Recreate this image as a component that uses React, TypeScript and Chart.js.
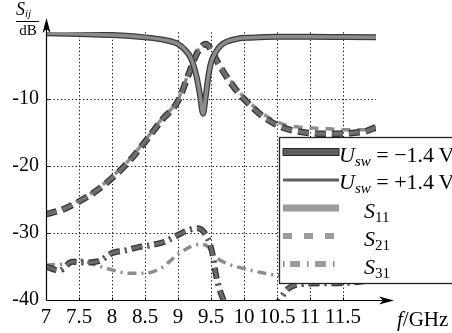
import React, { useEffect, useRef } from 'react';
import { Chart, registerables } from 'chart.js';

Chart.register(...registerables);

// ---- tick labels ----
const X_TICKS = [7, 7.5, 8, 8.5, 9, 9.5, 10, 10.5, 11, 11.5, 12];
const Y_TICKS = [-40, -30, -20, -10, 0];
const X_GRID = [7.5, 8, 8.5, 9, 9.5, 10, 10.5, 11, 11.5];
const Y_GRID = [-10, -20, -30];

// ---- S11 ----
const FREQ_S11 = [7.0, 7.5, 8.0, 8.5, 8.8, 9.0, 9.1, 9.2, 9.28, 9.33, 9.38, 9.42, 9.46, 9.5, 9.56, 9.65, 9.75, 9.9, 10.1, 10.5, 11.0, 11.5, 12.0];
const S11_NEG = [-0.2, -0.3, -0.45, -0.8, -1.2, -1.8, -2.6, -4.0, -6.6, -9.2, -12.2, -9.6, -6.6, -4.6, -3.2, -2.0, -1.4, -1.0, -0.85, -0.7, -0.7, -0.75, -0.8];
const S11_POS = [-0.25, -0.35, -0.5, -0.85, -1.3, -1.9, -2.7, -4.2, -6.9, -9.5, -11.8, -9.4, -6.5, -4.7, -3.3, -2.1, -1.5, -1.05, -0.9, -0.75, -0.75, -0.8, -0.85];

// ---- S21 ----
const FREQ_S21 = [7.0, 7.25, 7.5, 7.75, 8.0, 8.25, 8.5, 8.75, 9.0, 9.15, 9.25, 9.33, 9.42, 9.5, 9.6, 9.8, 10.0, 10.3, 10.6, 10.85, 11.2, 11.6, 11.85, 12.0];
const S21_NEG = [-27.2, -26.5, -25.3, -23.8, -21.8, -19.4, -16.4, -13.2, -10.3, -6.6, -4.0, -2.5, -1.8, -2.6, -4.5, -7.6, -10.0, -12.7, -14.3, -14.9, -15.2, -15.1, -14.8, -14.2];
const S21_POS = [-27.0, -26.3, -25.1, -23.6, -21.6, -19.2, -16.2, -13.0, -10.1, -6.4, -3.8, -2.3, -1.6, -2.4, -4.3, -7.3, -9.7, -12.3, -13.8, -14.2, -14.4, -14.6, -14.6, -14.6];

// ---- S31 ----
const FREQ_S31_NEG = [7.0, 7.2, 7.4, 7.6, 7.8, 8.0, 8.2, 8.4, 8.6, 8.8, 9.0, 9.15, 9.3, 9.45, 9.52, 9.57, 9.65, 9.75, 10.0, 10.3, 10.5, 10.67, 10.9, 11.3, 11.6, 12.0];
const S31_NEG = [-35.0, -35.6, -34.3, -34.4, -34.2, -33.0, -32.6, -32.1, -31.8, -31.3, -30.3, -29.6, -29.3, -30.8, -33.0, -36.0, -39.0, -41.0, -42.5, -42.0, -40.5, -38.3, -37.6, -37.5, -37.4, -37.0];
const FREQ_S31_POS = [7.0, 7.25, 7.5, 7.75, 8.0, 8.25, 8.5, 8.75, 9.0, 9.2, 9.35, 9.45, 9.55, 9.75, 10.0, 10.25, 10.5, 11.0, 11.5, 12.0];
const S31_POS = [-34.8, -34.6, -34.0, -34.8, -35.5, -36.0, -36.0, -35.2, -33.2, -32.0, -31.7, -32.0, -33.4, -34.6, -35.3, -35.9, -36.3, -36.5, -36.5, -36.3];

const SERIF = '"Liberation Serif"';

function pts(xs: number[], ys: number[]) {
  return xs.map((x, i) => ({ x, y: ys[i] }));
}

function ds(data: any[], color: string, width: number, dash: number[], order: number) {
  return {
    data,
    borderColor: color,
    borderWidth: width,
    borderDash: dash,
    borderCapStyle: 'butt',
    pointRadius: 0,
    fill: false,
    order,
    cubicInterpolationMode: 'monotone',
  };
}

function rich(ctx: CanvasRenderingContext2D, x: number, y: number, parts: [string, string, number, number][]) {
  let cx = x;
  for (const [t, st, sz, dy] of parts) {
    ctx.font = `${st} ${sz}px ${SERIF}`;
    ctx.fillText(t, cx, y + dy);
    cx += ctx.measureText(t).width;
  }
}

const decor = {
  id: 'decor',
  beforeDatasetsDraw(chart: any) {
    const { ctx, scales } = chart;
    const x = scales.x, y = scales.y;
    ctx.save();
    ctx.strokeStyle = '#111';
    ctx.lineWidth = 1;
    ctx.setLineDash([1.3, 2.4]);
    const x0 = x.getPixelForValue(7), x1 = x.getPixelForValue(12);
    const yTop = y.getPixelForValue(0), yBot = y.getPixelForValue(-40);
    for (const v of Y_GRID) {
      const py = Math.round(y.getPixelForValue(v)) + 0.5;
      ctx.beginPath(); ctx.moveTo(x0, py); ctx.lineTo(x1, py); ctx.stroke();
    }
    for (const v of X_GRID) {
      const px = Math.round(x.getPixelForValue(v)) + 0.5;
      ctx.beginPath(); ctx.moveTo(px, yBot); ctx.lineTo(px, yTop); ctx.stroke();
    }
    ctx.restore();
  },
  afterDatasetsDraw(chart: any) {
    const { ctx, scales } = chart;
    const x = scales.x, y = scales.y;
    const ax = Math.round(x.getPixelForValue(7)) + 0.5;
    const ay = Math.round(y.getPixelForValue(-40)) + 0.5;
    ctx.save();
    ctx.fillStyle = '#fff';
    ctx.fillRect(ax - 1, ay + 1, 360, 4);
    ctx.strokeStyle = '#000';
    ctx.fillStyle = '#000';
    ctx.lineWidth = 1.2;
    ctx.setLineDash([]);
    ctx.beginPath();
    ctx.moveTo(ax, ay); ctx.lineTo(ax, 26);
    ctx.moveTo(ax, ay); ctx.lineTo(386, ay);
    ctx.stroke();
    ctx.beginPath();
    ctx.moveTo(ax, 18); ctx.lineTo(ax + 4, 33); ctx.lineTo(ax, 29); ctx.lineTo(ax - 4, 33); ctx.closePath(); ctx.fill();
    ctx.beginPath();
    ctx.moveTo(394, ay); ctx.lineTo(379, ay - 4); ctx.lineTo(383, ay); ctx.lineTo(379, ay + 4); ctx.closePath(); ctx.fill();
    ctx.lineWidth = 1;
    for (const v of X_GRID) {
      const px = Math.round(x.getPixelForValue(v)) + 0.5;
      ctx.beginPath(); ctx.moveTo(px, ay); ctx.lineTo(px, ay - 3); ctx.stroke();
    }
    for (const v of Y_GRID) {
      const py = Math.round(y.getPixelForValue(v)) + 0.5;
      ctx.beginPath(); ctx.moveTo(ax, py); ctx.lineTo(ax + 3, py); ctx.stroke();
    }
    ctx.textBaseline = 'alphabetic';
    ctx.textAlign = 'left';
    rich(ctx, 16, 15, [['S', 'italic', 18, 0], ['ij', 'italic', 11, 2]]);
    ctx.fillRect(16, 21, 23, 1);
    ctx.font = `15px ${SERIF}`;
    ctx.textAlign = 'center';
    ctx.fillText('dB', 28, 35);
    ctx.textAlign = 'left';
    rich(ctx, 397, 326, [['f', 'italic', 21, 0], ['/GHz', 'normal', 21, 0]]);

    // legend
    const lx = 279.5, ly = 137.5;
    ctx.fillStyle = '#fff';
    ctx.fillRect(lx, ly, 200, 146);
    ctx.strokeStyle = '#222';
    ctx.lineWidth = 1.3;
    ctx.strokeRect(lx, ly, 200, 146);
    const rows = [152, 180, 208, 236, 264];
    ctx.fillStyle = '#5e5e5e';
    ctx.fillRect(283, rows[0] - 3.5, 56, 7);
    ctx.strokeStyle = '#2a2a2a'; ctx.lineWidth = 1;
    ctx.strokeRect(283, rows[0] - 3.5, 56, 7);
    ctx.fillStyle = '#606060';
    ctx.fillRect(283, rows[1] - 1.5, 56, 3);
    ctx.fillStyle = '#9c9c9c';
    ctx.fillRect(283, rows[2] - 3.5, 56, 7);
    for (const sx of [283, 304, 325]) ctx.fillRect(sx, rows[3] - 3, 9, 6);
    ctx.fillRect(290, rows[4] - 3, 10, 6);
    ctx.fillRect(315, rows[4] - 3, 11, 6);
    ctx.fillStyle = '#888';
    for (const sx of [283, 307, 333]) ctx.fillRect(sx, rows[4] - 3, 1.5, 6);

    ctx.fillStyle = '#000';
    rich(ctx, 339, rows[0] + 10, [['U', 'italic', 22, 0], ['sw', 'italic', 15, 4], [' = \u22121.4\u2009V', 'normal', 22, 0]]);
    rich(ctx, 339, rows[1] + 9, [['U', 'italic', 22, 0], ['sw', 'italic', 15, 4], [' = +1.4\u2009V', 'normal', 22, 0]]);
    rich(ctx, 364, rows[2] + 10, [['S', 'italic', 22, 0], ['11', 'normal', 15, 4]]);
    rich(ctx, 364, rows[3] + 10, [['S', 'italic', 22, 0], ['21', 'normal', 15, 4]]);
    rich(ctx, 364, rows[4] + 10, [['S', 'italic', 22, 0], ['31', 'normal', 15, 4]]);
    ctx.restore();
  },
};

export default function App() {
  const ref = useRef<HTMLCanvasElement>(null);
  useEffect(() => {
    if (!ref.current) return;
    const datasets: any[] = [
      ds(pts(FREQ_S31_POS, S31_POS), '#8c8c8c', 3.5, [9, 5, 2, 5], 20),
      ds(pts(FREQ_S31_NEG, S31_NEG), '#333', 6, [11, 5, 2, 5], 19),
      ds(pts(FREQ_S31_NEG, S31_NEG), '#6a6a6a', 3.5, [11, 5, 2, 5], 18),
      ds(pts(FREQ_S21, S21_POS), '#8e8e8e', 3.5, [9, 7], 17),
      ds(pts(FREQ_S21, S21_NEG), '#333', 6.5, [11, 6], 16),
      ds(pts(FREQ_S21, S21_NEG), '#6e6e6e', 4, [11, 6], 15),
      ds(pts(FREQ_S11, S11_POS), '#555', 3, [], 14),
      ds(pts(FREQ_S11, S11_NEG), '#3a3a3a', 6, [], 13),
      ds(pts(FREQ_S11, S11_NEG), '#8c8c8c', 3.5, [], 12),
    ];
    const chart = new Chart(ref.current, {
      type: 'line',
      data: { datasets },
      options: {
        responsive: false,
        animation: false,
        devicePixelRatio: 1,
        layout: { padding: { left: 0, right: 76, top: 32, bottom: 0 } },
        plugins: { legend: { display: false }, tooltip: { enabled: false } },
        scales: {
          x: {
            type: 'linear',
            min: 7,
            max: 12,
            afterBuildTicks: (s: any) => { s.ticks = X_TICKS.map((v) => ({ value: v })); },
            afterFit: (s: any) => { s.height = 33; },
            grid: { display: false, drawTicks: false },
            border: { display: false },
            ticks: {
              autoSkip: false,
              maxRotation: 0,
              padding: 5,
              color: '#000',
              font: { family: SERIF, size: 21 },
              callback: (v: any) => (v === 12 ? '' : String(v)),
            },
          },
          y: {
            type: 'linear',
            min: -40,
            max: 0,
            afterBuildTicks: (s: any) => { s.ticks = Y_TICKS.map((v) => ({ value: v })); },
            afterFit: (s: any) => { s.width = 46; },
            grid: { display: false, drawTicks: false },
            border: { display: false },
            ticks: {
              padding: 7,
              color: '#000',
              font: { family: SERIF, size: 20 },
              callback: (v: any) => (v === 0 ? '' : String(v)),
            },
          },
        },
      },
      plugins: [decor],
    } as any);
    return () => chart.destroy();
  }, []);
  return (
    <div style={{ position: 'fixed', left: 0, top: 0, width: 452, height: 333, background: '#fff' }}>
      <canvas ref={ref} width={452} height={333} style={{ width: 452, height: 333 }} />
    </div>
  );
}
